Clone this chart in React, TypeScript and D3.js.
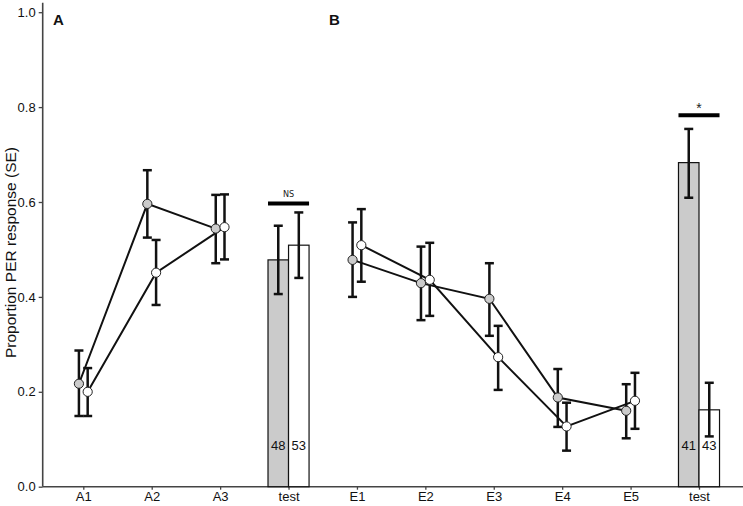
import { useEffect, useRef } from "react"
import * as d3 from "d3"

// x categories (two panels, each ending with a "test" bar pair)
const tickLabels = ["A1", "A2", "A3", "test", "E1", "E2", "E3", "E4", "E5", "test"]
const panelA = [0, 1, 2]
const panelB = [4, 5, 6, 7, 8]
const testIdx = [3, 9]

// grey series (points)
const greyMean = [0.217, 0.596, 0.544, 0.478, 0.429, 0.396, 0.188, 0.16]
const greyLo = [0.149, 0.525, 0.471, 0.4, 0.351, 0.318, 0.126, 0.102]
const greyHi = [0.287, 0.667, 0.615, 0.557, 0.506, 0.471, 0.248, 0.216]

// white series (points)
const whiteMean = [0.2, 0.451, 0.547, 0.509, 0.436, 0.273, 0.127, 0.181]
const whiteLo = [0.149, 0.383, 0.479, 0.432, 0.36, 0.204, 0.076, 0.122]
const whiteHi = [0.25, 0.52, 0.616, 0.585, 0.514, 0.339, 0.177, 0.24]

// test bars
const testGrey = [0.478, 0.683]
const testGreyLo = [0.406, 0.609]
const testGreyHi = [0.55, 0.754]
const testWhite = [0.509, 0.162]
const testWhiteLo = [0.44, 0.106]
const testWhiteHi = [0.578, 0.219]
const testNGrey = [48, 41]
const testNWhite = [53, 43]
const sigLabels = ["NS", "*"]
const sigLevel = [0.597, 0.783]

const yTicks = [0, 0.2, 0.4, 0.6, 0.8, 1.0]

export default function App() {
  const svgRef = useRef<SVGSVGElement>(null)

  useEffect(() => {
    if (!svgRef.current) return
    const width = 743
    const height = 506
    const svg = d3.select(svgRef.current)
    svg.selectAll("*").remove()
    svg.attr("width", width).attr("height", height)

    const font = "'Liberation Sans', Arial, sans-serif"
    const grey = "#cbcbcb"

    const x = d3
      .scalePoint<number>()
      .domain(d3.range(tickLabels.length))
      .range([83.3, 699])
    const step = x.step()
    const off = step * 0.064
    const barW = step * 0.3

    const y = d3.scaleLinear().domain([0, 1]).range([486.7, 12.2])

    // y axis
    const yAxis = svg
      .append("g")
      .attr("transform", "translate(42.7,0)")
      .call(
        d3
          .axisLeft(y)
          .tickValues(yTicks)
          .tickFormat(d3.format(".1f"))
          .tickSize(4)
          .tickPadding(3)
      )
    yAxis.select(".domain").attr("d", `M0,${y(1.02)}V${y(0)}`)

    // x axis
    const xAxis = svg
      .append("g")
      .attr("transform", `translate(0,${y(0)})`)
      .call(
        d3
          .axisBottom(x)
          .tickFormat((i) => tickLabels[i as number])
          .tickSize(3)
          .tickPadding(2.5)
      )
    xAxis.select(".domain").attr("d", `M42.7,0H743`)

    svg.selectAll(".domain").attr("stroke", "#444").attr("stroke-width", 1.6)
    svg.selectAll(".tick line").attr("stroke", "#444").attr("stroke-width", 1.3)
    svg
      .selectAll(".tick text")
      .attr("font-family", font)
      .attr("font-size", 13)
      .attr("fill", "#111")

    // bars
    testIdx.forEach((ti, k) => {
      const cx = x(ti)!
      svg
        .append("rect")
        .attr("x", cx - barW)
        .attr("y", y(testGrey[k]))
        .attr("width", barW)
        .attr("height", y(0) - y(testGrey[k]))
        .attr("fill", grey)
        .attr("stroke", "#111")
        .attr("stroke-width", 1.2)
      svg
        .append("rect")
        .attr("x", cx)
        .attr("y", y(testWhite[k]))
        .attr("width", barW)
        .attr("height", y(0) - y(testWhite[k]))
        .attr("fill", "#fff")
        .attr("stroke", "#111")
        .attr("stroke-width", 1.2)
    })

    const errBar = (cx: number, lo: number, hi: number) => {
      const g = svg.append("g").attr("stroke", "#111").attr("stroke-width", 2.5)
      g.append("line").attr("x1", cx).attr("x2", cx).attr("y1", y(lo)).attr("y2", y(hi))
      ;[lo, hi].forEach((v) =>
        g
          .append("line")
          .attr("x1", cx - 4.5)
          .attr("x2", cx + 4.5)
          .attr("y1", y(v))
          .attr("y2", y(v))
      )
    }

    // test error bars, counts, significance
    testIdx.forEach((ti, k) => {
      const cx = x(ti)!
      errBar(cx - barW / 2, testGreyLo[k], testGreyHi[k])
      errBar(cx + barW / 2, testWhiteLo[k], testWhiteHi[k])
      ;[
        [cx - barW / 2, testNGrey[k]],
        [cx + barW / 2, testNWhite[k]],
      ].forEach(([tx, n]) =>
        svg
          .append("text")
          .attr("x", tx)
          .attr("y", 449.5)
          .attr("text-anchor", "middle")
          .attr("font-family", font)
          .attr("font-size", 13)
          .attr("fill", "#111")
          .text(n)
      )
      svg
        .append("line")
        .attr("x1", cx - barW)
        .attr("x2", cx + barW)
        .attr("y1", y(sigLevel[k]))
        .attr("y2", y(sigLevel[k]))
        .attr("stroke", "#000")
        .attr("stroke-width", 4)
      const star = sigLabels[k] === "*"
      svg
        .append("text")
        .attr("x", cx)
        .attr("y", y(sigLevel[k]) - (star ? 2 : 6))
        .attr("text-anchor", "middle")
        .attr("font-family", star ? font : "'DejaVu Sans Condensed', 'DejaVu Sans', sans-serif")
        .attr("font-size", star ? 14 : 9)
        .attr("fill", "#222")
        .text(sigLabels[k])
    })

    // point series
    const allIdx = [...panelA, ...panelB]
    const series = [
      { mean: greyMean, lo: greyLo, hi: greyHi, dx: -off, fill: grey },
      { mean: whiteMean, lo: whiteLo, hi: whiteHi, dx: off, fill: "#fff" },
    ]
    const line = d3
      .line<[number, number]>()
      .x((d) => d[0])
      .y((d) => d[1])

    series.forEach((s) => {
      const pts = allIdx.map((ci, j) => [x(ci)! + s.dx, y(s.mean[j])] as [number, number])
      ;[pts.slice(0, panelA.length), pts.slice(panelA.length)].forEach((seg) =>
        svg
          .append("path")
          .attr("d", line(seg))
          .attr("fill", "none")
          .attr("stroke", "#111")
          .attr("stroke-width", 2)
      )
    })
    series.forEach((s) => {
      allIdx.forEach((ci, j) => errBar(x(ci)! + s.dx, s.lo[j], s.hi[j]))
    })
    series.forEach((s) => {
      svg
        .append("g")
        .selectAll("circle")
        .data(allIdx)
        .join("circle")
        .attr("cx", (ci) => x(ci)! + s.dx)
        .attr("cy", (_, j) => y(s.mean[j]))
        .attr("r", 4.6)
        .attr("fill", s.fill)
        .attr("stroke", "#222")
        .attr("stroke-width", 1)
    })

    // panel labels
    ;[
      ["A", 58.3],
      ["B", 334.3],
    ].forEach(([t, px]) =>
      svg
        .append("text")
        .attr("x", px)
        .attr("y", 24.5)
        .attr("text-anchor", "middle")
        .attr("font-family", font)
        .attr("font-weight", "bold")
        .attr("font-size", 15)
        .attr("fill", "#111")
        .text(t)
    )

    // y title
    svg
      .append("text")
      .attr("transform", `translate(16,${(143 + 362) / 2}) rotate(-90)`)
      .attr("text-anchor", "middle")
      .attr("font-family", font)
      .attr("font-size", 15.5)
      .attr("fill", "#111")
      .text("Proportion PER response (SE)")
  }, [])

  return <svg ref={svgRef} style={{ position: "absolute", left: 0, top: 0, background: "#fff" }} />
}
